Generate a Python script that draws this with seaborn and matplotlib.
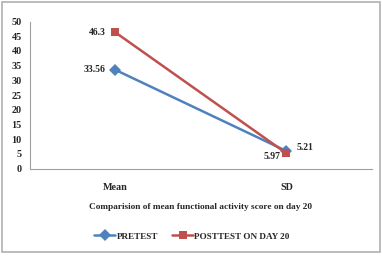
import pandas as pd
import matplotlib.pyplot as plt
import seaborn as sns
from matplotlib.patches import Rectangle

# данные графика
categories = ['Mean', 'SD']
pretest = [33.56, 5.97]
posttest = [46.3, 5.21]
series_names = ['PRETEST', 'POSTTEST ON DAY 20']

df = pd.DataFrame({
    'cat': categories * 2,
    'x': [0, 1] * 2,
    'value': pretest + posttest,
    'series': [series_names[0]] * 2 + [series_names[1]] * 2,
})

sns.set_style('white')
plt.rcParams['font.family'] = ['Liberation Serif', 'DejaVu Serif']
plt.rcParams['font.weight'] = 'bold'

fig = plt.figure(figsize=(3.82, 2.57), dpi=100)
ax = fig.add_axes([0.0785, 0.344, 0.895, 0.572])

palette = {series_names[0]: '#4F81BD', series_names[1]: '#C0504D'}
sns.lineplot(data=df, x='x', y='value', hue='series', style='series',
             markers={series_names[0]: 'D', series_names[1]: 's'},
             dashes=False, palette=palette, linewidth=1.8, markersize=6,
             markeredgewidth=0, ax=ax)

ax.set_xlim(-0.5, 1.5)
ax.set_ylim(0, 50)
ax.set_yticks(range(0, 51, 5))
ax.set_xticks([-0.5, 0.5, 1.5])
ax.set_xticklabels([])
ax.tick_params(axis='x', direction='out', length=4, color='#a0a0a0', width=0.8)
ax.tick_params(axis='y', direction='out', length=4, color='#a0a0a0', width=0.8,
               labelsize=7.3, pad=2)
for s in ['top', 'right']:
    ax.spines[s].set_visible(False)
for s in ['left', 'bottom']:
    ax.spines[s].set_color('#a0a0a0')
    ax.spines[s].set_linewidth(0.8)

for i, c in enumerate(categories):
    ax.text(i, -4.8, c, ha='center', va='top', fontsize=7.3, fontweight='bold')

ax.set_xlabel('')
ax.set_ylabel('')
fig.text(0.524, 0.195, 'Comparision of mean functional activity score on day 20',
         ha='center', va='center', fontsize=6.7, fontweight='bold')

# подписи значений
lbl = dict(textcoords='offset points', va='center', fontsize=7, fontweight='bold')
ax.annotate(f'{posttest[0]}', (0, posttest[0]), xytext=(-7, 0), ha='right', **lbl)
ax.annotate(f'{pretest[0]}', (0, pretest[0]), xytext=(-7, 0), ha='right', **lbl)
ax.annotate(f'{pretest[1]}', (1, pretest[1]), xytext=(-4, -4), ha='right', **lbl)
ax.annotate(f'{posttest[1]}', (1, posttest[1]), xytext=(7, 4), ha='left', **lbl)

handles, labels = ax.get_legend_handles_labels()
ax.legend_.remove()
fig.legend(handles, labels, loc='center', bbox_to_anchor=(0.503, 0.08), ncol=2,
           frameon=False, fontsize=6.6, handlelength=2.2, handletextpad=0.2,
           columnspacing=1.6)

fig.patches.append(Rectangle((0.006, 0.02), 0.988, 0.972, transform=fig.transFigure,
                             fill=False, edgecolor='#b0b0b0', linewidth=1.2))

fig.savefig('out.png', dpi=100)
